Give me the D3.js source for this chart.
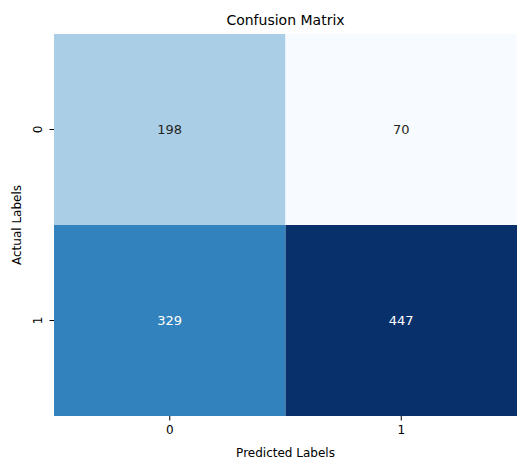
<html>
<head>
<meta charset="utf-8">
<script src="https://d3js.org/d3.v7.min.js"></script>
<style>body{margin:0;background:#fff;} text{font-family:"DejaVu Sans",sans-serif;}</style>
</head>
<body>
<svg id="chart"></svg>
<script>
var actualLabels = ["0", "1"];
var predictedLabels = ["0", "1"];
var counts = [[198, 70], [329, 447]];

var svg = d3.select("#chart").attr("width", 528).attr("height", 470);
var plotLeft = 54, plotRight = 517, plotTop = 34, plotBottom = 416;

var x = d3.scaleBand().domain(predictedLabels).range([plotLeft, plotRight]);
var y = d3.scaleBand().domain(actualLabels).range([plotTop, plotBottom]);
var flat = counts.flat();
var color = d3.scaleSequential(d3.interpolateBlues).domain([d3.min(flat), d3.max(flat)]);

var cells = [];
actualLabels.forEach(function(a, i){
	predictedLabels.forEach(function(p, j){
		cells.push({a: a, p: p, v: counts[i][j]});
	});
});

svg.selectAll("rect.cell").data(cells).enter().append("rect")
	.attr("x", d => x(d.p)).attr("y", d => y(d.a))
	.attr("width", x.bandwidth()).attr("height", y.bandwidth())
	.attr("fill", d => color(d.v));

function lum(c){
	var r = d3.rgb(c);
	var f = v => { v /= 255; return v <= 0.03928 ? v / 12.92 : Math.pow((v + 0.055) / 1.055, 2.4); };
	return 0.2126 * f(r.r) + 0.7152 * f(r.g) + 0.0722 * f(r.b);
}

svg.selectAll("text.val").data(cells).enter().append("text")
	.attr("x", d => x(d.p) + x.bandwidth() / 2)
	.attr("y", d => y(d.a) + y.bandwidth() / 2)
	.attr("text-anchor", "middle").attr("dominant-baseline", "central")
	.attr("font-size", 13)
	.attr("fill", d => lum(color(d.v)) > 0.408 ? "#262626" : "#ffffff")
	.text(d => d.v);

var xAxis = svg.append("g").attr("transform", "translate(0," + plotBottom + ")")
	.call(d3.axisBottom(x).tickSize(4.5).tickPadding(5));
var yAxis = svg.append("g").attr("transform", "translate(" + plotLeft + ",0)")
	.call(d3.axisLeft(y).tickSize(4.5).tickPadding(5));
[xAxis, yAxis].forEach(function(g){
	g.select(".domain").remove();
	g.selectAll("text").attr("font-size", 12).attr("fill", "#000").style("font-family", "DejaVu Sans");
});
yAxis.selectAll(".tick text")
	.attr("transform", "rotate(-90)").attr("x", 0).attr("y", -16)
	.attr("dy", "0.35em").attr("text-anchor", "middle");

svg.append("text").attr("x", (plotLeft + plotRight) / 2).attr("y", 25)
	.attr("text-anchor", "middle").attr("font-size", 14).text("Confusion Matrix");
svg.append("text").attr("x", (plotLeft + plotRight) / 2).attr("y", 457)
	.attr("text-anchor", "middle").attr("font-size", 12).text("Predicted Labels");
svg.append("text").attr("transform", "translate(21," + (plotTop + plotBottom) / 2 + ") rotate(-90)")
	.attr("text-anchor", "middle").attr("font-size", 12).text("Actual Labels");
</script>
</body>
</html>
